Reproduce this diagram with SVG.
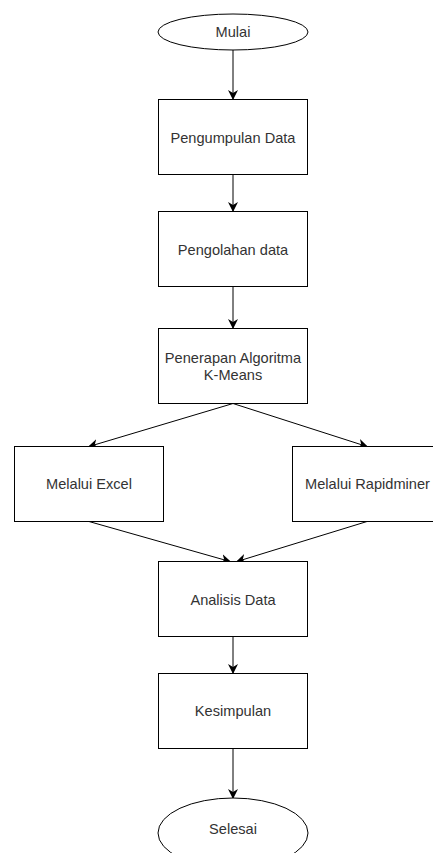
<svg xmlns="http://www.w3.org/2000/svg" width="433" height="853" viewBox="0 0 433 853">
<style>
.n{fill:#fff;stroke:#000;stroke-width:1}
.t{font-family:"Liberation Sans",Arial,sans-serif;font-size:14.6px;fill:#333;text-anchor:middle;dominant-baseline:central}
.e{fill:none;stroke:#000;stroke-width:1}
</style>
<defs>
<marker id="a" viewBox="0 0 10 10" refX="9" refY="5" markerWidth="10" markerHeight="10" markerUnits="userSpaceOnUse" orient="auto">
<path d="M0,0 L10,5 L0,10 L3,5 Z" fill="#000"/>
</marker>
</defs>
<rect width="433" height="853" fill="#fff"/>
<g id="connectors">
<line class="e" x1="233" y1="50" x2="233" y2="99" marker-end="url(#a)"/>
<line class="e" x1="233" y1="174.5" x2="233" y2="211" marker-end="url(#a)"/>
<line class="e" x1="233" y1="286.5" x2="233" y2="328" marker-end="url(#a)"/>
<line class="e" x1="233" y1="403.5" x2="89" y2="446.5" marker-end="url(#a)"/>
<line class="e" x1="233" y1="403.5" x2="367" y2="446.5" marker-end="url(#a)"/>
<line class="e" x1="89" y1="521.5" x2="230" y2="561.5" marker-end="url(#a)"/>
<line class="e" x1="367" y1="521.5" x2="237" y2="561.5" marker-end="url(#a)"/>
<line class="e" x1="233" y1="636.5" x2="233" y2="673" marker-end="url(#a)"/>
<line class="e" x1="233" y1="748.5" x2="233" y2="798" marker-end="url(#a)"/>
</g>
<g id="mulai"><ellipse class="n" cx="233" cy="32" rx="75" ry="18"/><text class="t" x="233" y="32">Mulai</text></g>
<g id="pengumpulan"><rect class="n" x="158.5" y="99.5" width="149" height="75"/><text class="t" x="233" y="138">Pengumpulan Data</text></g>
<g id="pengolahan"><rect class="n" x="158.5" y="211.5" width="149" height="75"/><text class="t" x="233" y="250">Pengolahan data</text></g>
<g id="penerapan"><rect class="n" x="158.5" y="328.5" width="149" height="75"/><text class="t" x="233" y="357.5">Penerapan Algoritma</text><text class="t" x="233" y="375">K-Means</text></g>
<g id="excel"><rect class="n" x="14.5" y="446.5" width="149" height="75"/><text class="t" x="89" y="484">Melalui Excel</text></g>
<g id="rapidminer"><rect class="n" x="292.5" y="446.5" width="150" height="75"/><text class="t" x="367.5" y="484">Melalui Rapidminer</text></g>
<g id="analisis"><rect class="n" x="158.5" y="561.5" width="149" height="75"/><text class="t" x="233" y="599.5">Analisis Data</text></g>
<g id="kesimpulan"><rect class="n" x="158.5" y="673.5" width="149" height="75"/><text class="t" x="233" y="711">Kesimpulan</text></g>
<g id="selesai"><ellipse class="n" cx="233" cy="833" rx="75" ry="35"/><text class="t" x="233" y="829">Selesai</text></g>
</svg>
